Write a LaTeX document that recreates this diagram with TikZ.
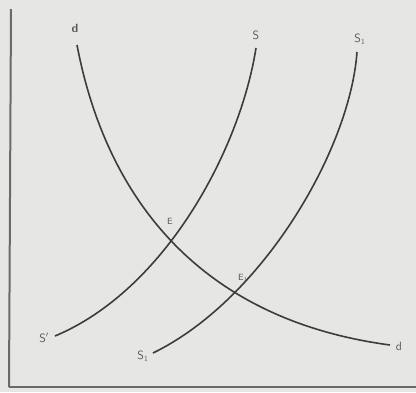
\documentclass[tikz,border=0pt]{standalone}
\usepackage{tikz}
\usetikzlibrary{positioning}

\definecolor{paper}{HTML}{E6E6E4}
\definecolor{ink}{HTML}{3C3C3C}
\definecolor{axisgray}{HTML}{6A6A6A}

\begin{document}
\begin{tikzpicture}[
  x=1pt, y=-1pt,
  font=\sffamily\large,
  curve/.style={draw=ink, line width=1.6pt},
  axis/.style={draw=axisgray, line width=1.2pt},
  lbl/.style={text=ink!85, inner sep=1pt}
]

\fill[paper] (0,0) rectangle (416,392);
\useasboundingbox (0,0) rectangle (416,392);

% axes
\coordinate (top) at (11,9);
\coordinate (origin) at (9,387);
\coordinate (right) at (416,387);
\draw[axis, line width=2pt] (top) -- (origin);
\draw[axis] (origin) -- (right);

% demand and supply curves
\coordinate (d0) at (77,45);
\coordinate (d1) at (390,345);
\coordinate (s0) at (55,336);
\coordinate (s1) at (256,48);
\coordinate (t0) at (153,353);
\coordinate (t1) at (357,52);
\draw[curve] (d0) .. controls (107,202) and (203,320) .. (d1);
\draw[curve] (s0) .. controls (165,290) and (240,150) .. (s1);
\draw[curve] (t0) .. controls (262,300) and (350,150) .. (t1);

\node[lbl, font=\sffamily\large\bfseries] (dtop) at (75,28) {d};
\node[lbl] (dbot) at (399,346) {d};
\node[lbl] (stop) at (256,35) {S};
\node[lbl] (sbot) at (44,338) {S$'$};
\node[lbl] (s1top) at (360,39) {S$_1$};
\node[lbl] (s1bot) at (143,356) {S$_1$};
\node[lbl, font=\sffamily\small] (e) at (170,221) {E};
\node[lbl, font=\sffamily\small] (e1) at (243,278) {E$_1$};

\end{tikzpicture}
\end{document}
